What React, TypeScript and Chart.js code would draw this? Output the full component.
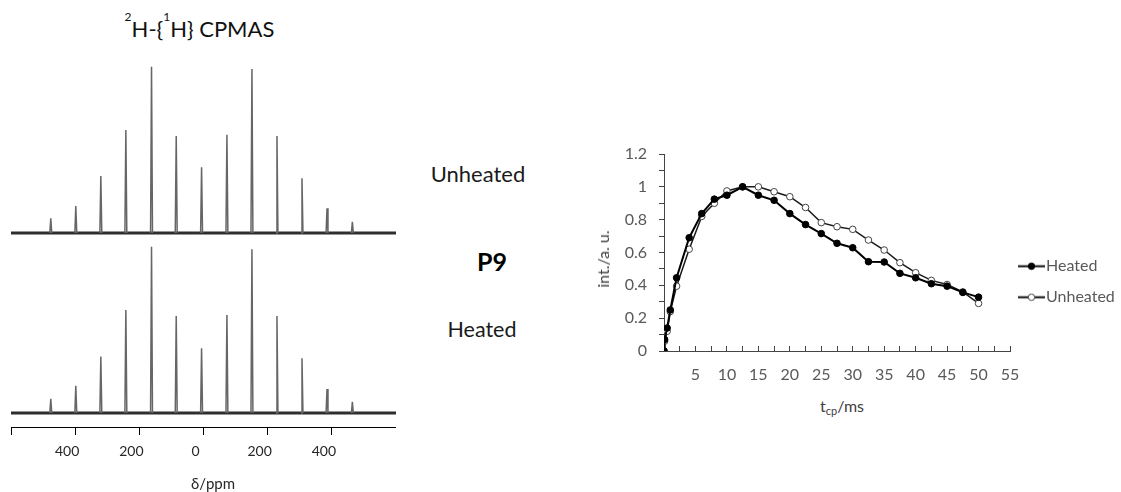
import React, { useEffect, useRef } from "react";
import { Chart, registerables } from "chart.js";

Chart.register(...registerables);

const FONT = "Lato, 'Open Sans', sans-serif";
Chart.defaults.font.family = FONT;

// ---------- 2H-{1H} CPMAS spectra (spinning sidebands) ----------
const sidebandShifts = [476, 398, 320, 242, 162, 85, 6, -73, -151, -229, -307, -385, -464];
const unheatedPeaks = [0.088, 0.162, 0.343, 0.619, 1.0, 0.583, 0.395, 0.591, 0.986, 0.583, 0.329, 0.149, 0.068];
const heatedPeaks = [0.086, 0.164, 0.339, 0.619, 1.0, 0.583, 0.389, 0.589, 0.984, 0.583, 0.329, 0.144, 0.068];
const ppmLimits = [-600, 600];
const ppmStep = 200;

// ---------- CP build-up curves ----------
const contactTimes = [0, 0.1, 0.5, 1, 2, 4, 6, 8, 10, 12.5, 15, 17.5, 20, 22.5, 25, 27.5, 30, 32.5, 35, 37.5, 40, 42.5, 45, 47.5, 50];
const heatedIntensity = [0, 0.07, 0.14, 0.25, 0.446, 0.69, 0.837, 0.925, 0.949, 1.0, 0.949, 0.918, 0.837, 0.77, 0.715, 0.656, 0.629, 0.544, 0.542, 0.473, 0.446, 0.41, 0.395, 0.357, 0.328];
const unheatedIntensity = [0, 0.06, 0.12, 0.24, 0.395, 0.62, 0.82, 0.9, 0.975, 1.0, 1.0, 0.97, 0.94, 0.874, 0.782, 0.757, 0.741, 0.676, 0.615, 0.538, 0.477, 0.43, 0.405, 0.36, 0.29];
const seriesNames = ["Heated", "Unheated"];
const tcpLimits = [0, 55];
const intLimits = [0, 1.2];

const SPIKE_HALF_WIDTH = 3; // ppm

function spikePoints(shifts: number[], heights: number[]) {
  const pts: { x: number; y: number | null }[] = [];
  shifts.forEach((s, i) => {
    pts.push({ x: s + SPIKE_HALF_WIDTH, y: 0 });
    pts.push({ x: s, y: heights[i] });
    pts.push({ x: s - SPIKE_HALF_WIDTH, y: 0 });
    pts.push({ x: s - SPIKE_HALF_WIDTH, y: null });
  });
  return pts;
}

function spectrumConfig(heights: number[], withAxis: boolean): any {
  return {
    type: "line",
    data: {
      datasets: [
        {
          data: spikePoints(sidebandShifts, heights),
          borderColor: "#666666",
          borderWidth: 1.5,
          pointRadius: 0,
          spanGaps: false,
          tension: 0,
        },
        {
          data: [
            { x: ppmLimits[1], y: 0 },
            { x: ppmLimits[0], y: 0 },
          ],
          borderColor: "#2e2e2e",
          borderWidth: 3,
          pointRadius: 0,
        },
      ],
    },
    options: {
      responsive: false,
      animation: false,
      events: [],
      layout: { padding: 0 },
      plugins: { legend: { display: false }, tooltip: { enabled: false } },
      scales: {
        x: {
          type: "linear",
          min: ppmLimits[0],
          max: ppmLimits[1],
          reverse: true,
          display: withAxis,
          border: { display: true, color: "#000", width: 1 },
          grid: { drawOnChartArea: false, drawTicks: true, tickLength: 8, color: "#000", lineWidth: 1 },
          ticks: {
            stepSize: ppmStep,
            autoSkip: false,
            maxRotation: 0,
            padding: 8,
            labelOffset: -8,
            color: "#262626",
            font: { size: 14, family: FONT },
            callback: (v: any) => (Math.abs(Number(v)) === ppmLimits[1] ? "" : String(Math.abs(Number(v)))),
          },
          afterFit: (s: any) => {
            if (withAxis) s.height = 40;
            s.paddingLeft = 0;
            s.paddingRight = 0;
          },
        },
        y: { display: false, min: -0.0842, max: 1.0403 },
      },
    },
  };
}

function swatch(filled: boolean) {
  const c = document.createElement("canvas");
  c.width = 27;
  c.height = 9;
  const g = c.getContext("2d")!;
  g.strokeStyle = "#111";
  g.lineWidth = 2;
  g.beginPath();
  g.moveTo(0, 4.5);
  g.lineTo(27, 4.5);
  g.stroke();
  g.beginPath();
  g.arc(13.5, 4.5, 3.2, 0, Math.PI * 2);
  g.fillStyle = filled ? "#000" : "#fff";
  g.fill();
  g.lineWidth = 1;
  g.strokeStyle = filled ? "#000" : "#444";
  g.stroke();
  return c;
}

function buildupConfig(): any {
  const swatches = [swatch(true), swatch(false)];
  return {
    type: "line",
    data: {
      datasets: [
        {
          label: seriesNames[0],
          data: contactTimes.map((t, i) => ({ x: t, y: heatedIntensity[i] })),
          borderColor: "#000",
          borderWidth: 2,
          pointRadius: 3.3,
          pointBackgroundColor: "#000",
          pointBorderColor: "#000",
          pointBorderWidth: 1,
          tension: 0,
        },
        {
          label: seriesNames[1],
          data: contactTimes.map((t, i) => ({ x: t, y: unheatedIntensity[i] })),
          borderColor: "#1a1a1a",
          borderWidth: 1.5,
          pointRadius: 3.3,
          pointBackgroundColor: "#fff",
          pointBorderColor: "#444",
          pointBorderWidth: 1,
          tension: 0,
        },
      ],
    },
    options: {
      responsive: false,
      animation: false,
      events: [],
      layout: { padding: 0 },
      plugins: {
        tooltip: { enabled: false },
        legend: {
          position: "right",
          align: "start",
          fullSize: false,
          maxWidth: 111,
          title: { display: true, text: " ", padding: { top: 70, bottom: 0 }, font: { size: 16 } },
          labels: {
            usePointStyle: true,
            pointStyleWidth: 13,
            padding: 15,
            color: "#595959",
            font: { size: 16, family: FONT },
            generateLabels: (chart: any) =>
              chart.data.datasets.map((ds: any, i: number) => ({
                text: ds.label,
                pointStyle: swatches[i],
                fillStyle: "#000",
                strokeStyle: "#000",
                lineWidth: 0,
                hidden: false,
                datasetIndex: i,
                fontColor: "#595959",
              })),
          },
        },
      },
      scales: {
        x: {
          type: "linear",
          min: tcpLimits[0],
          max: tcpLimits[1],
          border: { display: true, color: "#444", width: 1 },
          grid: { drawOnChartArea: false, drawTicks: true, tickLength: -5, color: "#444" },
          ticks: {
            stepSize: 2.5,
            maxTicksLimit: 100,
            autoSkip: false,
            maxRotation: 0,
            padding: 19,
            color: "#595959",
            font: { size: 16, family: FONT },
            callback: (v: any) => {
              const n = Number(v);
              return n > 0 && n % 5 === 0 ? String(n) : "";
            },
          },
          afterFit: (s: any) => {
            s.height = 40;
          },
        },
        y: {
          min: intLimits[0],
          max: intLimits[1],
          border: { display: true, color: "#444", width: 1 },
          grid: { drawOnChartArea: false, drawTicks: true, tickLength: 5, color: "#444" },
          ticks: {
            stepSize: 0.1,
            maxTicksLimit: 100,
            autoSkip: false,
            padding: 12,
            color: "#595959",
            font: { size: 16, family: FONT },
            callback: (v: any) => {
              const k = Math.round(Number(v) * 10);
              return k % 2 === 0 ? String(k / 10) : "";
            },
          },
          afterFit: (s: any) => {
            s.width = 74;
            s.paddingTop = 14;
            s.paddingBottom = 0;
          },
        },
      },
    },
  };
}

function ChartCanvas(props: { left: number; top: number; width: number; height: number; make: () => any }) {
  const ref = useRef<HTMLCanvasElement>(null);
  useEffect(() => {
    const chart = new Chart(ref.current!, props.make());
    return () => chart.destroy();
  }, []);
  return (
    <canvas
      ref={ref}
      width={props.width}
      height={props.height}
      style={{ position: "absolute", left: props.left, top: props.top, width: props.width, height: props.height }}
    />
  );
}

function Label(props: {
  cx: number;
  top: number;
  size: number;
  bold?: boolean;
  color?: string;
  rotate?: boolean;
  children: any;
}) {
  return (
    <div
      style={{
        position: "absolute",
        left: props.cx,
        top: props.top,
        transform: props.rotate ? "translate(-50%, -50%) rotate(-90deg)" : "translateX(-50%)",
        fontFamily: FONT,
        fontSize: props.size,
        lineHeight: 1,
        fontWeight: props.bold ? 700 : 400,
        color: props.color || "#1a1a1a",
        whiteSpace: "nowrap",
      }}
    >
      {props.children}
    </div>
  );
}

const supStyle = { fontSize: 12, verticalAlign: 16, lineHeight: 0 };

export default function App() {
  return (
    <div
      style={{
        position: "absolute",
        left: 0,
        top: 0,
        width: 1121,
        height: 492,
        overflow: "hidden",
        background: "#fff",
      }}
    >
      <Label cx={199.5} top={17} size={22} color="#111">
        <sup style={supStyle}>2</sup>H-{"{"}
        <sup style={supStyle}>1</sup>H{"}"} CPMAS
      </Label>
      <ChartCanvas left={11} top={60} width={385} height={187} make={() => spectrumConfig(unheatedPeaks, false)} />
      <ChartCanvas left={11} top={240} width={385} height={227} make={() => spectrumConfig(heatedPeaks, true)} />
      <Label cx={213} top={475.7} size={15} color="#262626">
        δ/ppm
      </Label>
      <Label cx={478} top={162.5} size={22}>
        Unheated
      </Label>
      <Label cx={492} top={248.5} size={25} bold color="#000">
        P9
      </Label>
      <Label cx={482} top={319} size={21.5}>
        Heated
      </Label>
      <ChartCanvas left={590} top={140} width={531} height={251} make={buildupConfig} />
      <Label cx={603} top={259} size={16} color="#404040" rotate>
        int./a. u.
      </Label>
      <Label cx={842} top={397.5} size={16} color="#404040">
        t<sub style={{ fontSize: 11, verticalAlign: -3, lineHeight: 0 }}>cp</sub>/ms
      </Label>
    </div>
  );
}
